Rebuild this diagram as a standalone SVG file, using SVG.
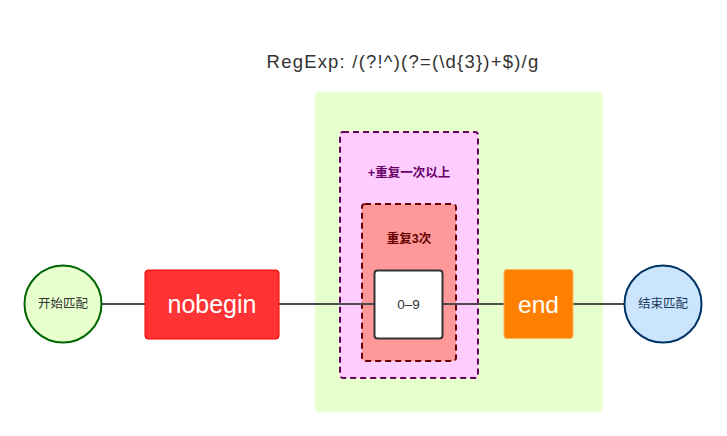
<svg xmlns="http://www.w3.org/2000/svg" width="727" height="436" viewBox="0 0 727 436">
<style>
.t{font-family:"Liberation Sans",Arial,"Noto Sans CJK SC",sans-serif;text-anchor:middle;dominant-baseline:central}
.c{stroke:#4d4d4d;stroke-width:2;fill:none}
</style>
<rect width="727" height="436" fill="#ffffff"/>
<text class="t" x="403" y="61" font-size="18.5" letter-spacing="1.2" fill="#333333">RegExp: /(?!^)(?=(\d{3})+$)/g</text>
<g id="group-lookahead">
<rect x="315" y="92" width="288" height="320" rx="4" fill="#e6ffcc"/>
</g>
<g id="group-plus">
<rect x="340" y="132" width="138" height="246" rx="3" fill="#ffccff" stroke="#660066" stroke-width="2" stroke-dasharray="6,4"/>
<text class="t" x="409" y="173" font-size="12.5" font-weight="bold" fill="#660066">+重复一次以上</text>
</g>
<g id="group-repeat3">
<rect x="362" y="204" width="94" height="157" rx="3" fill="#ff9999" stroke="#660000" stroke-width="2" stroke-dasharray="6,4"/>
<text class="t" x="409" y="239" font-size="12.5" font-weight="bold" fill="#660000">重复3次</text>
</g>
<g id="connectors">
<line class="c" x1="102" y1="304" x2="145" y2="304"/>
<line class="c" x1="279" y1="304" x2="374" y2="304"/>
<line class="c" x1="442" y1="304" x2="504" y2="304"/>
<line class="c" x1="573" y1="304" x2="624" y2="304"/>
</g>
<g id="node-start">
<circle cx="63" cy="304" r="38.5" fill="#e6ffcc" stroke="#006600" stroke-width="2"/>
<text class="t" x="63" y="304" font-size="12.5" fill="#333333">开始匹配</text>
</g>
<g id="node-nobegin">
<rect x="145" y="270" width="134" height="69" rx="3" fill="#ff3333" stroke="#ff0000" stroke-width="1"/>
<text class="t" x="212" y="304" font-size="25" fill="#ffffff">nobegin</text>
</g>
<g id="node-digit">
<rect x="374.5" y="270.5" width="68" height="68" rx="3" fill="#ffffff" stroke="#333333" stroke-width="2"/>
<text class="t" x="408.5" y="304" font-size="13.5" fill="#333333">0–9</text>
</g>
<g id="node-end">
<rect x="504" y="269.5" width="69" height="69" rx="3" fill="#ff8000" stroke="#ffb366" stroke-width="1"/>
<text class="t" x="538.5" y="304" font-size="24.5" fill="#ffffff">end</text>
</g>
<g id="node-finish">
<circle cx="663" cy="304" r="38.5" fill="#cce5ff" stroke="#003366" stroke-width="2"/>
<text class="t" x="663" y="304" font-size="12.5" fill="#1a3a5c">结束匹配</text>
</g>
</svg>
